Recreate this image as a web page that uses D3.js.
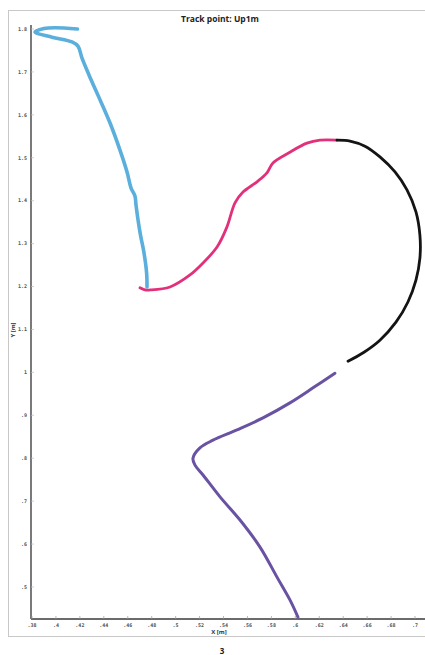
<!DOCTYPE html>
<html>
<head>
<meta charset="utf-8">
<script src="https://cdn.jsdelivr.net/npm/d3@7"></script>
<style>
  html, body { margin: 0; padding: 0; background: #fff; }
  svg { display: block; }
</style>
</head>
<body>
<script>
// Track point trajectory, four consecutive phases (x, y in metres)
const phaseA = [ // light blue
  [0.418, 1.800], [0.399, 1.803], [0.390, 1.801], [0.3825, 1.793], [0.3967, 1.781],
  [0.4134, 1.770], [0.4184, 1.760], [0.4218, 1.732], [0.4276, 1.693], [0.4351, 1.646],
  [0.4452, 1.581], [0.4535, 1.518], [0.4594, 1.467], [0.4627, 1.430], [0.4660, 1.411],
  [0.4669, 1.390], [0.4686, 1.355], [0.4705, 1.322], [0.4736, 1.278], [0.4758, 1.230],
  [0.4761, 1.199]
];
const phaseB = [ // pink
  [0.4702, 1.197], [0.4744, 1.192], [0.4786, 1.192], [0.4953, 1.199], [0.5120, 1.227],
  [0.5229, 1.255], [0.5346, 1.292], [0.5429, 1.339], [0.5496, 1.395], [0.5563, 1.420],
  [0.5680, 1.444], [0.5763, 1.465], [0.5813, 1.488], [0.5955, 1.513], [0.6097, 1.534],
  [0.6206, 1.541], [0.6348, 1.541]
];
const phaseC = [ // black
  [0.6348, 1.541], [0.6457, 1.539], [0.6582, 1.527], [0.6707, 1.502], [0.6833, 1.467],
  [0.6933, 1.425], [0.7008, 1.374], [0.7041, 1.320], [0.7041, 1.266], [0.7008, 1.215],
  [0.6941, 1.164], [0.6841, 1.117], [0.6707, 1.075], [0.6574, 1.047], [0.6440, 1.026]
];
const phaseD = [ // purple
  [0.6331, 0.998], [0.6148, 0.964], [0.5955, 0.929], [0.5730, 0.894], [0.5513, 0.866],
  [0.5312, 0.842], [0.5203, 0.824], [0.5145, 0.800], [0.5162, 0.784], [0.5229, 0.761],
  [0.5371, 0.710], [0.5538, 0.656], [0.5705, 0.593], [0.5847, 0.523], [0.5955, 0.470],
  [0.6022, 0.430]
];
const xTicks = [0.38, 0.40, 0.42, 0.44, 0.46, 0.48, 0.50, 0.52, 0.54, 0.56, 0.58, 0.60, 0.62, 0.64, 0.66, 0.68, 0.70];
const xTickLabels = [".38", ".4", ".42", ".44", ".46", ".48", ".5", ".52", ".54", ".56", ".58", ".6", ".62", ".64", ".66", ".68", ".7"];
const yTicks = [0.5, 0.6, 0.7, 0.8, 0.9, 1.0, 1.1, 1.2, 1.3, 1.4, 1.5, 1.6, 1.7, 1.8];
const yTickLabels = [".5", ".6", ".7", ".8", ".9", "1", "1.1", "1.2", "1.3", "1.4", "1.5", "1.6", "1.7", "1.8"];

const W = 425, H = 655;
const svg = d3.select("body").append("svg").attr("width", W).attr("height", H);

// panel frame
svg.append("rect")
  .attr("x", 8.5).attr("y", 10.5).attr("width", 430).attr("height", 626)
  .attr("fill", "#fff").attr("stroke", "#c8c8c8").attr("stroke-width", 1);

const x = d3.scaleLinear().domain([0.38, 0.70]).range([32, 415]);
const y = d3.scaleLinear().domain([0.5, 1.8]).range([587, 29]);
const x0 = 31, xEnd = 425, yBase = 619, yTop = 25;

// axes lines
svg.append("line").attr("x1", x0).attr("x2", x0).attr("y1", yTop).attr("y2", yBase)
  .attr("stroke", "#6b6b6b").attr("stroke-width", 1.8);
svg.append("line").attr("x1", x0).attr("x2", xEnd).attr("y1", yBase).attr("y2", yBase)
  .attr("stroke", "#6b6b6b").attr("stroke-width", 1.8);

const tickFont = "'DejaVu Sans Mono', monospace";

// x ticks and labels
const xt = svg.append("g").selectAll("g").data(xTicks).join("g")
  .attr("transform", d => `translate(${x(d)},0)`);
xt.append("line").attr("y1", yBase - 3).attr("y2", yBase).attr("stroke", "#999").attr("stroke-width", 0.7);
xt.append("text").attr("y", yBase + 8).attr("text-anchor", "middle")
  .attr("font-family", tickFont).attr("font-size", 5).attr("font-weight", "bold").attr("fill", "#555")
  .text((d, i) => xTickLabels[i]);

// y ticks and labels
const yt = svg.append("g").selectAll("g").data(yTicks).join("g")
  .attr("transform", d => `translate(0,${y(d)})`);
yt.append("line").attr("x1", x0).attr("x2", x0 + 3).attr("stroke", "#bbb").attr("stroke-width", 0.7);
yt.append("text").attr("x", 27).attr("dy", "0.35em").attr("text-anchor", "end")
  .attr("font-family", tickFont).attr("font-size", 5).attr("font-weight", "bold").attr("fill", "#555")
  .text((d, i) => yTickLabels[i]);

// axis titles
svg.append("text").attr("x", 219).attr("y", 634).attr("text-anchor", "middle")
  .attr("font-family", "'Open Sans', sans-serif").attr("font-size", 6).attr("font-weight", "bold").attr("fill", "#333")
  .text("X [m]");
svg.append("text").attr("transform", "translate(15,330) rotate(-90)").attr("text-anchor", "middle")
  .attr("font-family", "'Open Sans', sans-serif").attr("font-size", 6).attr("font-weight", "bold").attr("fill", "#333")
  .text("Y [m]");

// chart title
svg.append("text").attr("x", 220).attr("y", 22).attr("text-anchor", "middle")
  .attr("font-family", "'Open Sans', sans-serif").attr("font-size", 8.5).attr("font-weight", "bold").attr("fill", "#222")
  .text("Track point: Up1m");

// figure number
svg.append("text").attr("x", 222).attr("y", 654).attr("text-anchor", "middle")
  .attr("font-family", "'Open Sans', sans-serif").attr("font-size", 8).attr("font-weight", "bold").attr("fill", "#222")
  .text("3");

// trajectory
const line = d3.line().x(d => x(d[0])).y(d => y(d[1])).curve(d3.curveCatmullRom.alpha(0.5));
const phases = [
  { data: phaseA, color: "#5aafdc", width: 3.6 },
  { data: phaseB, color: "#e2317b", width: 2.8 },
  { data: phaseC, color: "#141414", width: 2.8 },
  { data: phaseD, color: "#6a52a3", width: 3.0 }
];
svg.append("g").selectAll("path").data(phases).join("path")
  .attr("d", p => line(p.data))
  .attr("fill", "none")
  .attr("stroke", p => p.color)
  .attr("stroke-width", p => p.width)
  .attr("stroke-linecap", "round")
  .attr("stroke-linejoin", "round");
</script>
</body>
</html>
